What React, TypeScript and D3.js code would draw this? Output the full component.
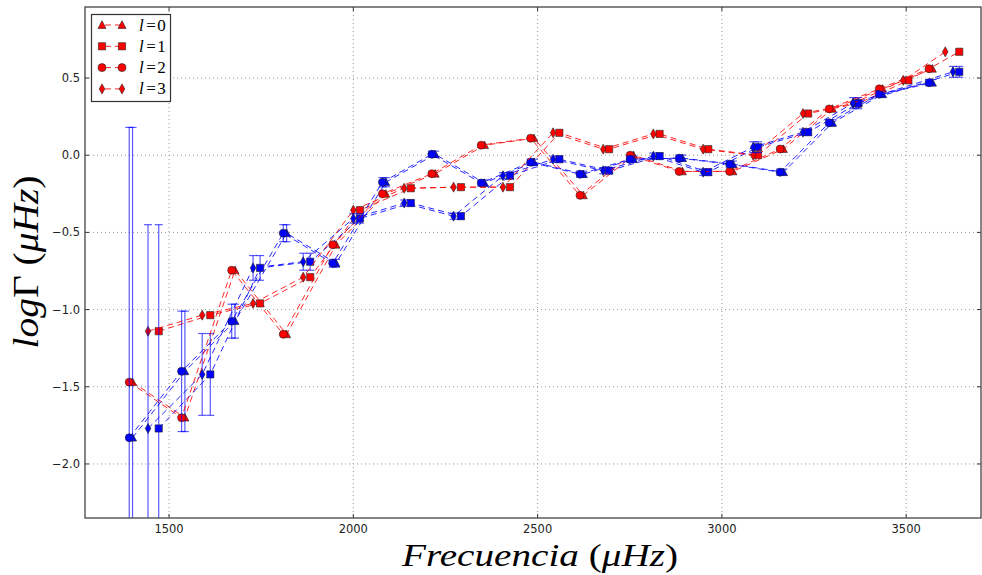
import React from 'react';
import * as d3 from 'd3';

// ---- data ----
const freqL0 = [1401, 1543, 1679, 1819, 1953, 2088, 2222, 2356, 2490, 2624, 2760, 2893, 3030, 3167, 3300, 3436, 3571];
const freqL2 = [1392, 1534, 1670, 1810, 1944, 2079, 2213, 2347, 2481, 2615, 2751, 2884, 3021, 3158, 3291, 3427, 3562];
const freqL1 = [1472, 1612, 1747, 1883, 2018, 2156, 2292, 2425, 2559, 2694, 2831, 2963, 3098, 3234, 3370, 3506, 3644];
const freqL3Red = [1443, 1590, 1728, 1864, 2000, 2138, 2272, 2406, 2542, 2678, 2814, 2949, 3085, 3220, 3356, 3492, 3606];
const freqL3Blue = [1443, 1590, 1728, 1864, 2000, 2138, 2272, 2406, 2542, 2678, 2814, 2949, 3085, 3220, 3356, 3492, 3627];

const redL02 = [-1.47, -1.70, -0.745, -1.16, -0.58, -0.25, -0.12, 0.065, 0.11, -0.26, 0.0, -0.105, -0.105, 0.04, 0.30, 0.43, 0.56];
const redL13 = [-1.14, -1.036, -0.96, -0.79, -0.356, -0.214, -0.207, -0.207, 0.145, 0.039, 0.138, 0.039, 0.0, 0.27, 0.335, 0.485, 0.67];

const blueL02 = [-1.83, -1.40, -1.075, -0.505, -0.70, -0.175, 0.006, -0.18, -0.045, -0.123, -0.026, -0.019, -0.058, -0.11, 0.21, 0.395, 0.47];
const blueL02Err = [2.01, 0.39, 0.11, 0.055, 0.025, 0.03, 0.02, 0.02, 0.02, 0.02, 0.02, 0.02, 0.02, 0.02, 0.02, 0.02, 0.02];
const blueL13 = [-1.77, -1.42, -0.73, -0.69, -0.41, -0.31, -0.395, -0.133, -0.026, -0.10, -0.006, -0.11, 0.052, 0.149, 0.337, null, 0.54];
const blueL13Err = [1.32, 0.265, 0.08, 0.055, 0.03, 0.02, 0.02, 0.02, 0.02, 0.02, 0.02, 0.02, 0.035, 0.02, 0.036, null, 0.035];

const xTicks = [1500, 2000, 2500, 3000, 3500];
const yTicks = [0.5, 0.0, -0.5, -1.0, -1.5, -2.0];
const legendLabels = ['0', '1', '2', '3'];

// ---- layout ----
const W = 982, H = 575;
const L = 85, R = 981, T = 7, B = 518;

const x = d3.scaleLinear().domain([1272, 3703]).range([L, R]);
const y = d3.scaleLinear().domain([-2.35, 0.96]).range([B, T]);

type Shape = 'triangle' | 'square' | 'circle' | 'diamond';

function markerPath(shape: Shape): string {
  if (shape === 'circle') return 'M4,0A4,4 0 1,1 -4,0A4,4 0 1,1 4,0Z';
  if (shape === 'square') return 'M-3.6,-3.6H3.6V3.6H-3.6Z';
  if (shape === 'triangle') return 'M0,-4.2L4,3.4L-4,3.4Z';
  return 'M0,-5L2.8,0L0,5L-2.8,0Z';
}

interface Series {
  color: string;
  shape: Shape;
  f: number[];
  v: (number | null)[];
  err: (number | null)[] | null;
}

const RED = '#ff0000';
const BLUE = '#0000ff';

const seriesList: Series[] = [
  { color: RED, shape: 'triangle', f: freqL0, v: redL02, err: null },
  { color: BLUE, shape: 'triangle', f: freqL0, v: blueL02, err: blueL02Err },
  { color: RED, shape: 'square', f: freqL1, v: redL13, err: null },
  { color: BLUE, shape: 'square', f: freqL1, v: blueL13, err: blueL13Err },
  { color: RED, shape: 'circle', f: freqL2, v: redL02, err: null },
  { color: BLUE, shape: 'circle', f: freqL2, v: blueL02, err: blueL02Err },
  { color: RED, shape: 'diamond', f: freqL3Red, v: redL13, err: null },
  { color: BLUE, shape: 'diamond', f: freqL3Blue, v: blueL13, err: blueL13Err },
];

const legendShapes: Shape[] = ['triangle', 'square', 'circle', 'diamond'];

const fmt = (t: number) => d3.format('.1f')(t).replace('-', '\u2212');

export default function App() {
  const line = d3.line<[number, number]>().x(d => x(d[0])).y(d => y(d[1]));
  return (
    <svg width={W} height={H} style={{ position: 'absolute', left: 0, top: 0, background: '#fff' }}>
      <defs>
        <clipPath id="plot">
          <rect x={L} y={T} width={R - L} height={B - T} />
        </clipPath>
      </defs>
      <rect x={0} y={0} width={W} height={H} fill="#fff" />
      {/* grid */}
      {xTicks.map(t => (
        <line key={'gx' + t} x1={x(t)} x2={x(t)} y1={T} y2={B} stroke="#999" strokeWidth={1} strokeDasharray="1,3" />
      ))}
      {yTicks.map(t => (
        <line key={'gy' + t} x1={L} x2={R} y1={y(t)} y2={y(t)} stroke="#999" strokeWidth={1} strokeDasharray="1,3" />
      ))}
      <g clipPath="url(#plot)">
        {seriesList.map((s, si) => {
          const pts: [number, number][] = [];
          s.f.forEach((f, i) => { const v = s.v[i]; if (v !== null) pts.push([f, v]); });
          return (
            <g key={'s' + si}>
              <path d={line(pts) || ''} fill="none" stroke={s.color} strokeOpacity={0.85} strokeWidth={1} strokeDasharray="6,4" />
              {s.err && s.f.map((f, i) => {
                const v = s.v[i];
                const e = s.err ? s.err[i] : null;
                if (v === null || e === null) return null;
                const cx = x(f);
                const y1 = y(v + e), y2 = y(v - e);
                return (
                  <g key={'e' + i} stroke={s.color} strokeOpacity={0.65} strokeWidth={1.2}>
                    <line x1={cx} x2={cx} y1={y1} y2={y2} />
                    <line x1={cx - 4} x2={cx + 4} y1={y1} y2={y1} />
                    <line x1={cx - 4} x2={cx + 4} y1={y2} y2={y2} />
                  </g>
                );
              })}
              {s.f.map((f, i) => {
                const v = s.v[i];
                if (v === null) return null;
                return (
                  <path key={'m' + i} d={markerPath(s.shape)} transform={`translate(${x(f)},${y(v)})`}
                    fill={s.color} stroke="#222" strokeWidth={0.6} />
                );
              })}
            </g>
          );
        })}
      </g>
      {/* ticks */}
      {xTicks.map(t => (
        <g key={'tx' + t}>
          <line x1={x(t)} x2={x(t)} y1={B} y2={B - 4} stroke="#333" />
          <line x1={x(t)} x2={x(t)} y1={T} y2={T + 4} stroke="#333" />
          <text x={x(t)} y={533} textAnchor="middle" fontFamily="DejaVu Sans" fontSize={11.5} fill="#222">{t}</text>
        </g>
      ))}
      {yTicks.map(t => (
        <g key={'ty' + t}>
          <line x1={L} x2={L + 4} y1={y(t)} y2={y(t)} stroke="#333" />
          <line x1={R} x2={R - 4} y1={y(t)} y2={y(t)} stroke="#333" />
          <text x={80} y={y(t) + 4} textAnchor="end" fontFamily="DejaVu Sans" fontSize={11.5} fill="#222">{fmt(t)}</text>
        </g>
      ))}
      {/* frame */}
      <rect x={L} y={T} width={R - L} height={B - T} fill="none" stroke="#444" strokeWidth={1.3} />
      {/* legend */}
      <g>
        <rect x={91.5} y={14.5} width={79} height={87} fill="#fff" stroke="#333" strokeWidth={1.2} />
        {legendShapes.map((sh, i) => {
          const ly = 25 + i * 21.3;
          return (
            <g key={'lg' + i}>
              <line x1={102} x2={122} y1={ly} y2={ly} stroke={RED} strokeOpacity={0.85} strokeDasharray="6,4" strokeDashoffset={-3} />
              <path d={markerPath(sh)} transform={`translate(102,${ly})`} fill={RED} stroke="#222" strokeWidth={0.6} />
              <path d={markerPath(sh)} transform={`translate(122,${ly})`} fill={RED} stroke="#222" strokeWidth={0.6} />
              <text x={139} y={ly + 5.5} fontFamily="Liberation Serif" fontSize={17} fill="#000">
                <tspan fontStyle="italic">l</tspan>
                <tspan dx={2.5}>=</tspan>
                <tspan dx={1.5}>{legendLabels[i]}</tspan>
              </text>
            </g>
          );
        })}
      </g>
      {/* axis labels */}
      <text x={540} y={566} textAnchor="middle" fontFamily="Liberation Serif" fontSize={32} fill="#000"
        textLength={276} lengthAdjust="spacingAndGlyphs">
        <tspan fontStyle="italic">Frecuencia</tspan>
        <tspan> (</tspan>
        <tspan fontStyle="italic">μHz</tspan>
        <tspan>)</tspan>
      </text>
      <text transform="translate(38,262) rotate(-90)" textAnchor="middle" fontFamily="Liberation Serif" fontSize={36} fill="#000"
        textLength={173} lengthAdjust="spacingAndGlyphs">
        <tspan fontStyle="italic">log</tspan>
        <tspan>Γ (</tspan>
        <tspan fontStyle="italic">μHz</tspan>
        <tspan>)</tspan>
      </text>
    </svg>
  );
}
